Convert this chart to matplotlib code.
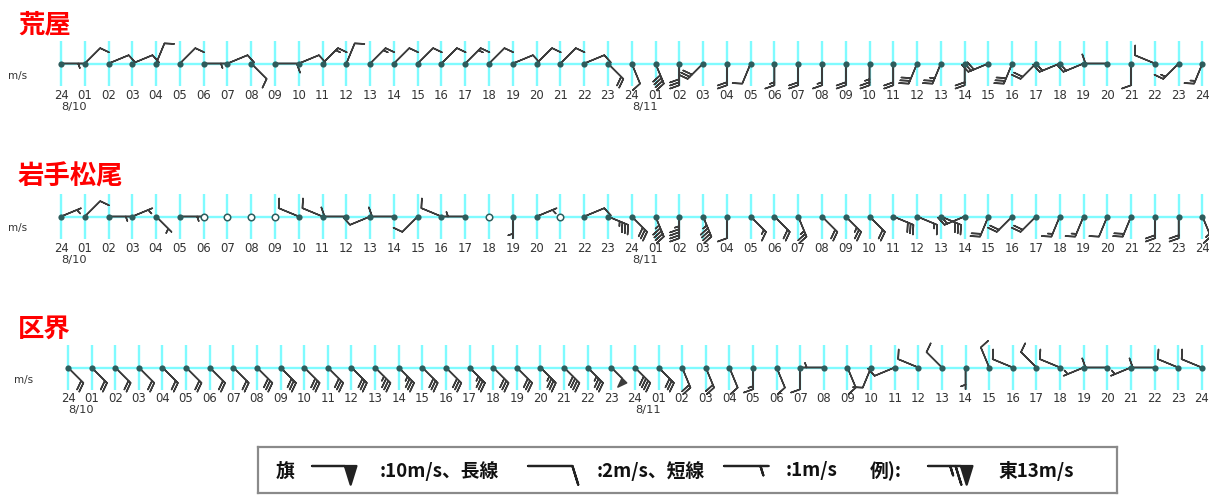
import numpy as np
import matplotlib
matplotlib.use("Agg")
import matplotlib.pyplot as plt

plt.rcParams['font.family'] = ['DejaVu Sans']

# ---------------------------------------------------------------- data
hour_labels = ["24", "01", "02", "03", "04", "05", "06", "07", "08", "09", "10",
               "11", "12", "13", "14", "15", "16", "17", "18", "19", "20", "21",
               "22", "23", "24", "01", "02", "03", "04", "05", "06", "07", "08",
               "09", "10", "11", "12", "13", "14", "15", "16", "17", "18", "19",
               "20", "21", "22", "23", "24"]
date_labels = ["8/10", "8/11"]
date_label_index = [1, 25]

station_names = ["荒屋", "岩手松尾", "区界"]

# wind direction (16-point compass, "C" = calm) and speed in m/s, hourly
araya_dir = ["E", "NE", "ENE", "ENE", "NNE", "NE", "E", "ENE", "SE", "E",
             "ENE", "NE", "NNE", "NE", "NE", "NE", "NE", "NE", "NE", "ENE",
             "NE", "NE", "ENE", "SE", "SSE", "SSE", "S", "SW", "S", "SSW",
             "S", "S", "S", "S", "S", "S", "SSW", "SSW", "S", "WSW",
             "SSW", "SW", "WSW", "WSW", "W", "S", "WNW", "SW", "SSW"]
araya_spd = [1, 2, 2, 2, 2, 2, 1, 2, 2, 2,
             2, 3, 2, 3, 2, 2, 2, 3, 2, 2,
             2, 2, 2, 4, 2, 8, 6, 6, 4, 2,
             3, 4, 3, 4, 5, 4, 6, 5, 4, 6,
             6, 4, 4, 3, 2, 2, 2, 3, 3]

matsuo_dir = ["ENE", "NE", "E", "ENE", "SE", "E", "C", "C", "C", "C",
              "WNW", "WNW", "W", "WSW", "W", "SW", "WNW", "W", "C", "S",
              "ENE", "C", "ENE", "ESE", "SE", "SSE", "S", "SSE", "S", "SE",
              "SE", "SSE", "SE", "SE", "SE", "ESE", "ESE", "ESE", "WSW", "SSW",
              "SW", "SW", "SSW", "SSW", "SSW", "SSW", "S", "S", "SSE"]
matsuo_spd = [1, 2, 1, 1, 1, 1, 0, 0, 0, 0,
              2, 2, 2, 2, 2, 2, 2, 1, 0, 1,
              1, 0, 2, 7, 6, 9, 9, 9, 2, 3,
              4, 5, 4, 5, 4, 6, 3, 6, 4, 4,
              4, 4, 3, 3, 2, 4, 4, 4, 3]

kuzakai_dir = ["SE", "SE", "SE", "SE", "SE", "SE", "SE", "SE", "SE", "SE",
               "SE", "SE", "SE", "SE", "SE", "SE", "SE", "SE", "SE", "SE",
               "SE", "SE", "SE", "SE", "SE", "SE", "SSE", "SSE", "SSE", "S",
               "SSE", "S", "W", "SSE", "SSW", "WSW", "WNW", "NW", "S", "NNW",
               "WNW", "NW", "WNW", "WSW", "W", "WSW", "W", "WNW", "WNW"]
kuzakai_spd = [4, 4, 4, 4, 4, 4, 4, 4, 6, 6,
               6, 6, 6, 7, 7, 6, 6, 7, 6, 6,
               7, 8, 7, 10, 8, 6, 4, 4, 2, 3,
               2, 2, 1, 2, 2, 2, 2, 2, 1, 2,
               2, 2, 2, 1, 2, 1, 2, 2, 2]

legend_speeds = [10, 2, 1, 13]
legend_texts = ["旗", ":10m/s、長線", ":2m/s、短線", ":1m/s", "例):", "東13m/s"]

# ---------------------------------------------------------------- style
W, H = 1209, 495
CYAN = "#7FFBFF"
BARB = "#3C3C3C"
DOT = "#2E5C5C"
COMPASS = ["N", "NNE", "NE", "ENE", "E", "ESE", "SE", "SSE",
           "S", "SSW", "SW", "WSW", "W", "WNW", "NW", "NNW"]

fig = plt.figure(figsize=(W / 100, H / 100), dpi=100)
fig.patch.set_facecolor("white")


def px_axes(left, top, right, bottom):
    return fig.add_axes([left / W, 1 - bottom / H,
                         (right - left) / W, (bottom - top) / H])


def wind_uv(dirs, spds):
    deg = np.array([COMPASS.index(d) * 22.5 if d != "C" else 0.0 for d in dirs])
    s = np.asarray(spds, dtype=float)
    rad = np.deg2rad(deg)
    return -s * np.sin(rad), -s * np.cos(rad)


# row layout in pixels: title y, baseline y, grid top/bottom, first x, step,
# tick label y, date label y, unit label x/y
rows = [
    dict(title_y=25, line=63.5, top=41, bottom=86, x0=61.0, dx=23.78,
         lab_y=95.5, date_y=107, unit_x=8, unit_y=76),
    dict(title_y=177, line=216.5, top=194, bottom=239, x0=61.0, dx=23.78,
         lab_y=248.5, date_y=259.5, unit_x=8, unit_y=228),
    dict(title_y=329, line=367.5, top=345, bottom=390, x0=68.0, dx=23.62,
         lab_y=399, date_y=410, unit_x=14, unit_y=380),
]
series = [(araya_dir, araya_spd), (matsuo_dir, matsuo_spd),
          (kuzakai_dir, kuzakai_spd)]

for name, (dirs, spds), g in zip(station_names, series, rows):
    ax = px_axes(0, g["top"], W, g["bottom"])
    ax.set_xlim(-g["x0"] / g["dx"], (W - g["x0"]) / g["dx"])
    ax.set_ylim(-(g["bottom"] - g["line"]), g["line"] - g["top"])
    ax.axis("off")

    x = np.arange(len(hour_labels))
    ylo, yhi = ax.get_ylim()
    ax.vlines(x, ylo, yhi, color=CYAN, lw=1.7, zorder=1)
    ax.hlines(0, x[0], x[-1], color=CYAN, lw=1.7, zorder=1)

    spd = np.asarray(spds, dtype=float)
    u, v = wind_uv(dirs, spds)
    windy = spd > 0
    ax.barbs(x[windy], np.zeros(windy.sum()), u[windy], v[windy],
             length=5.6, pivot="tip",
             barb_increments=dict(half=1, full=2, flag=10),
             sizes=dict(spacing=0.14, height=0.42, width=0.30),
             barbcolor=BARB, flagcolor=BARB, linewidth=1.1,
             clip_on=False, zorder=3)
    ax.scatter(x[windy], np.zeros(windy.sum()), s=20, color=DOT,
               zorder=4, clip_on=False, linewidths=0)
    ax.scatter(x[~windy], np.zeros((~windy).sum()), s=22, facecolor="white",
               edgecolor=DOT, linewidths=1.1, zorder=4, clip_on=False)

    for i, lab in enumerate(hour_labels):
        ax.text(i, -(g["lab_y"] - g["line"]), lab, ha="center", va="center",
                fontsize=8.4, color="#333333", clip_on=False)
    for lab, i in zip(date_labels, date_label_index):
        ax.text(i - 0.45, -(g["date_y"] - g["line"]), lab, ha="center",
                va="center", fontsize=8.2, color="#333333", clip_on=False)

    fig.text(18 / W, 1 - g["title_y"] / H, name, color="#FF0000",
             fontsize=19, fontweight="bold", ha="left", va="center",
             family=["Noto Sans CJK JP", "DejaVu Sans"])
    fig.text(g["unit_x"] / W, 1 - g["unit_y"] / H, "m/s", fontsize=7.5,
             color="#333333", ha="left", va="center")

# ---------------------------------------------------------------- legend box
lg = px_axes(258, 447, 1117, 493)
lg.set_xlim(258, 1117)
lg.set_ylim(-493, -447)
lg.set_xticks([])
lg.set_yticks([])
for sp in lg.spines.values():
    sp.set_color("#8A8A8A")
    sp.set_linewidth(1.6)

text_x = [276, 380, 597, 786, 870, 998]
for tx, t in zip(text_x, legend_texts):
    lg.text(tx, -471, t, ha="left", va="center", fontsize=13.5,
            fontweight="bold", color="#111111",
            family=["Noto Sans CJK JP", "DejaVu Sans"])

sym_x = [312, 528, 724, 928]
ls = np.asarray(legend_speeds, dtype=float)
lg.barbs(sym_x, np.full(len(sym_x), -466.0), -ls, np.zeros_like(ls),
         length=8.0, pivot="tip",
         barb_increments=dict(half=1, full=2, flag=10),
         sizes=dict(spacing=0.12, height=0.42, width=0.26),
         barbcolor="#222222", flagcolor="#222222", linewidth=1.6,
         clip_on=False)

fig.savefig("out.png", dpi=100, facecolor="white")
